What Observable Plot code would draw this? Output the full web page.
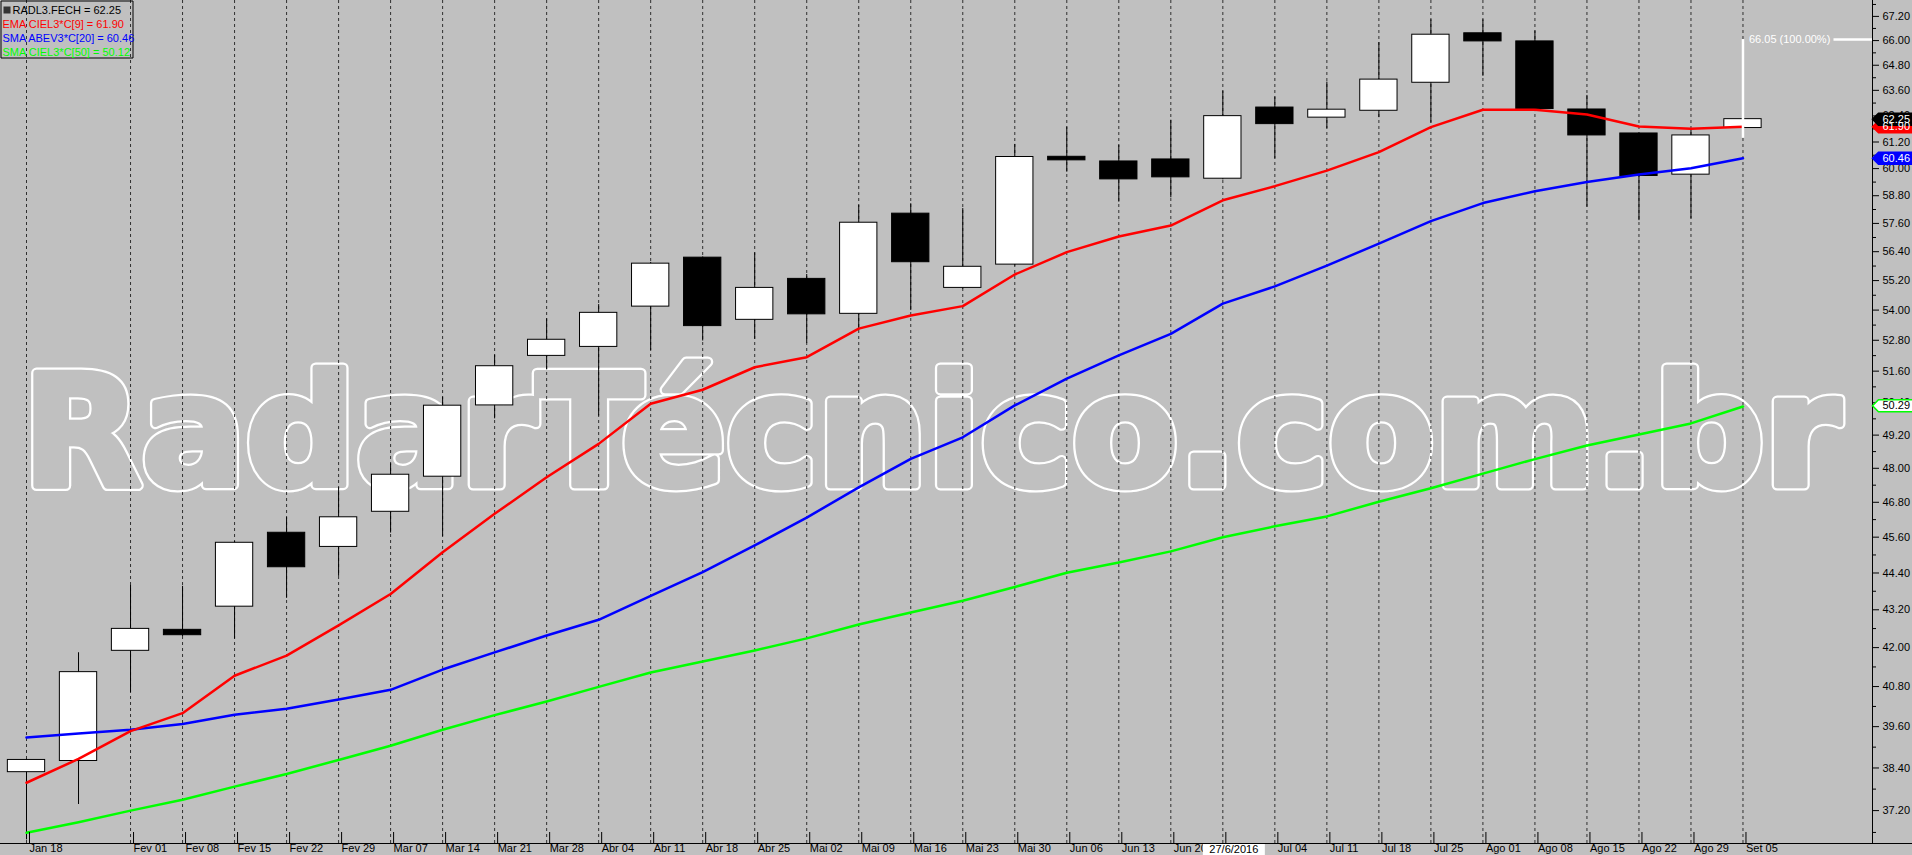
<!DOCTYPE html>
<html><head><meta charset="utf-8">
<script src="https://cdn.jsdelivr.net/npm/d3@7"></script>
<script src="https://cdn.jsdelivr.net/npm/@observablehq/plot@0.6"></script>
<style>html,body{margin:0;padding:0;background:#c0c0c0;overflow:hidden}</style>
</head><body><div id="chart"></div>
<script>
// ---- data (weekly RADL3 candles, 2016) ----
const weeks = ["Jan 18","Jan 25","Fev 01","Fev 08","Fev 15","Fev 22","Fev 29","Mar 07","Mar 14","Mar 21","Mar 28","Abr 04","Abr 11","Abr 18","Abr 25","Mai 02","Mai 09","Mai 16","Mai 23","Mai 30","Jun 06","Jun 13","Jun 20","Jun 27","Jul 04","Jul 11","Jul 18","Jul 25","Ago 01","Ago 08","Ago 15","Ago 22","Ago 29","Set 05"];
const open  = [38.28,38.60,41.90,42.56,43.30,45.75,45.27,46.47,47.70,50.30,52.19,52.54,54.14,56.15,53.61,55.27,53.85,58.02,54.90,55.86,60.53,60.32,60.41,59.55,62.79,62.32,62.64,63.96,66.36,65.96,62.70,61.59,59.73,61.84];
const high  = [38.65,41.84,43.99,43.96,45.45,46.27,47.31,48.16,50.61,52.22,53.65,54.22,55.95,56.18,56.35,55.45,58.38,58.45,58.24,61.09,61.88,61.05,62.20,63.56,63.28,63.99,65.90,67.03,67.03,66.47,63.36,61.60,61.81,62.27];
const low   = [36.40,37.37,40.62,42.35,42.27,43.57,44.29,45.74,45.62,49.80,51.65,49.90,52.40,52.77,52.84,52.68,53.19,53.98,54.85,55.80,59.84,58.52,58.71,59.50,60.44,61.81,62.32,62.07,64.27,62.60,58.30,57.72,57.80,61.40];
const close = [38.63,41.24,42.59,42.39,45.41,44.59,46.28,47.77,50.29,51.79,52.82,53.89,55.90,53.36,54.90,53.83,57.63,55.96,55.77,60.52,60.37,59.52,59.61,62.39,62.02,62.69,64.11,66.29,65.96,62.72,61.50,59.67,61.50,62.25];
const ema9  = [37.98,38.66,39.47,40.00,41.13,41.75,42.70,43.71,45.09,46.40,47.68,48.88,50.36,50.89,51.75,52.14,53.26,53.78,54.16,55.45,56.38,57.04,57.51,58.60,59.22,59.91,60.74,61.88,62.69,62.69,62.47,61.91,61.81,61.90];
const sma20 = [39.28,39.40,39.51,39.68,39.95,40.13,40.41,40.70,41.32,41.85,42.38,42.88,43.65,44.43,45.32,46.27,47.32,48.34,49.12,50.30,51.31,52.21,53.05,54.26,54.96,55.82,56.74,57.70,58.48,59.00,59.40,59.74,60.02,60.46];
const sma50 = [36.59,36.88,37.20,37.50,37.87,38.23,38.63,39.04,39.51,39.94,40.35,40.79,41.23,41.57,41.91,42.29,42.73,43.11,43.49,43.94,44.41,44.75,45.12,45.60,45.97,46.31,46.82,47.29,47.81,48.33,48.82,49.22,49.63,50.26];
const yTickLabels = [37.20,38.40,39.60,40.80,42.00,43.20,44.40,45.60,46.80,48.00,49.20,50.40,51.60,52.80,54.00,55.20,56.40,57.60,58.80,60.00,61.20,62.40,63.60,64.80,66.00,67.20];
const legendLines = ["RADL3.FECH = 62.25","EMA CIEL3*C[9] = 61.90","SMA ABEV3*C[20] = 60.46","SMA CIEL3*C[50] = 50.12"];
const legendColors = ["#000000","#ff0000","#0000ff","#00ff00"];
const tags = [
  {v: 61.90, text: "61.90", fill: "#ff0000", stroke: "#ff0000", tc: "#ffffff"},
  {v: 62.25, text: "62.25", fill: "#000000", stroke: "#000000", tc: "#ffffff"},
  {v: 60.46, text: "60.46", fill: "#0000ff", stroke: "#0000ff", tc: "#ffffff"},
  {v: 50.29, text: "50.29", fill: "#ffffff", stroke: "#00ff00", tc: "#000000"}
];
const markHigh = 66.05, markLow = 61.37, markLabel = "66.05 (100.00%)";
const cursorWeek = 23, cursorLabel = "27/6/2016";
const watermark = "RadarTécnico.com.br";

// ---- derived tables ----
const candles = weeks.map((w, i) => ({i, w, o: open[i], h: high[i], l: low[i], c: close[i],
  ema: ema9[i], s20: sma20[i], s50: sma50[i]}));
const shownIdx = weeks.map((w, i) => i).filter(i => weeks[i] !== "Jan 25");
const minorTicks = yTickLabels.map(t => +(t - 0.6).toFixed(2)).concat([67.8]);

const xDom = [-0.5, 35.49];
const half = 0.3586;
const rectSym = (x0, y0, x1, y1) => ({draw(ctx) { ctx.moveTo(x0, y0); ctx.lineTo(x1, y0); ctx.lineTo(x1, y1); ctx.lineTo(x0, y1); ctx.closePath(); }});
const tagSym = {draw(ctx) { ctx.moveTo(0, 0); ctx.lineTo(6, -6); ctx.lineTo(44, -6); ctx.lineTo(44, 6); ctx.lineTo(6, 6); ctx.closePath(); }};
const font = "'Liberation Sans', Arial, sans-serif";
const wmOpts = {frameAnchor: "top-left", dx: 22, dy: 484, textAnchor: "start", lineAnchor: "bottom",
  fontSize: 153, fontWeight: "bold", fontFamily: "DejaVu Sans"};

const chart = Plot.plot({
  width: 1912, height: 855,
  marginLeft: 0, marginRight: 40, marginTop: 0, marginBottom: 12,
  style: {background: "#c0c0c0", fontFamily: font, fontSize: "11px", color: "#000"},
  x: {type: "linear", domain: xDom},
  y: {type: "log", domain: [36.3, 68.0]},
  marks: [
    // heavy outlined watermark: white halo, then background-coloured body
    Plot.text([watermark], {...wmOpts, fill: "none", stroke: "#ffffff", strokeWidth: 11, strokeLinejoin: "round"}),
    Plot.text([watermark], {...wmOpts, fill: "#c0c0c0", stroke: "#c0c0c0", strokeWidth: 6.5, strokeLinejoin: "round"}),
    Plot.ruleX(shownIdx, {stroke: "#303030", strokeDasharray: "3,3", strokeWidth: 1}),
    // legend
    Plot.dot([0], {frameAnchor: "top-left", symbol: rectSym(0.5, 0.5, 132.5, 57.5), fill: "none", stroke: "#000", strokeWidth: 1}),
    Plot.dot([0], {frameAnchor: "top-left", symbol: rectSym(3, 6, 10, 13), fill: "#333", stroke: "none"}),
    ...legendLines.map((t, k) => Plot.text([t], {frameAnchor: "top-left", dx: k === 0 ? 12 : 2, dy: 10 + 14 * k,
      textAnchor: "start", lineAnchor: "middle", fill: legendColors[k], fontSize: 11, fontFamily: font})),
    // candles
    Plot.ruleX(candles, {x: "i", y1: "l", y2: "h", stroke: "#000", strokeWidth: 1}),
    Plot.rect(candles, {x1: d => d.i - half, x2: d => d.i + half, y1: "o", y2: "c",
      fill: d => d.c >= d.o ? "#ffffff" : "#000000", stroke: "#000", strokeWidth: 1}),
    // indicator lines
    Plot.line(candles, {x: "i", y: "s50", stroke: "#00ff00", strokeWidth: 2.5}),
    Plot.line(candles, {x: "i", y: "s20", stroke: "#0000ff", strokeWidth: 2.5}),
    Plot.line(candles, {x: "i", y: "ema", stroke: "#ff0000", strokeWidth: 2.5}),
    // annotation
    Plot.ruleX([weeks.length - 1], {y1: markHigh, y2: markLow, stroke: "#ffffff", strokeWidth: 2.5}),
    Plot.ruleY([markHigh], {x1: weeks.length - 1, x2: xDom[1], insetLeft: 91, stroke: "#ffffff", strokeWidth: 2.5}),
    Plot.text([markLabel], {x: weeks.length - 1, y: markHigh, dx: 6, textAnchor: "start", fill: "#ffffff", fontSize: 11, fontFamily: font}),
    // axes frame lines
    Plot.ruleX([xDom[1]], {stroke: "#000", strokeWidth: 1}),
    Plot.ruleY([36.3], {stroke: "#000", strokeWidth: 1, insetRight: -40}),
    Plot.axisY({anchor: "right", ticks: minorTicks, tickSize: 3, tickFormat: () => "", label: null}),
    Plot.axisY({anchor: "right", ticks: yTickLabels, tickSize: 6, tickPadding: 4, tickFormat: d => d.toFixed(2),
      fontSize: 11, fontFamily: font, label: null}),
    Plot.axisX({ticks: shownIdx, tickSize: 12, tickPadding: 0, tickFormat: i => i === cursorWeek ? "" : weeks[i],
      textAnchor: "start", dx: 3, dy: -11, fontSize: 11, fontFamily: font, label: null}),
    // cursor date box
    Plot.dot([cursorWeek], {x: d => d, frameAnchor: "bottom", symbol: rectSym(-20, 0.5, 42, 12), fill: "#ffffff", stroke: "none"}),
    Plot.text([cursorLabel], {x: () => cursorWeek, frameAnchor: "bottom", dx: 11, dy: 6, textAnchor: "middle", lineAnchor: "middle",
      fill: "#000", fontSize: 11, fontFamily: font}),
    // value tags on the price axis
    Plot.dot(tags, {y: "v", frameAnchor: "right", symbol: tagSym, fill: "fill", stroke: "stroke", strokeWidth: 1.5}),
    Plot.text(tags, {y: "v", frameAnchor: "right", dx: 10, textAnchor: "start", text: "text", fill: "tc", fontSize: 11, fontFamily: font})
  ]
});
document.getElementById("chart").appendChild(chart);
chart.querySelectorAll("text").forEach(t => {
  if (t.textContent === watermark) { t.setAttribute("textLength", 1818); t.setAttribute("lengthAdjust", "spacingAndGlyphs"); }
});
</script>
</body></html>
